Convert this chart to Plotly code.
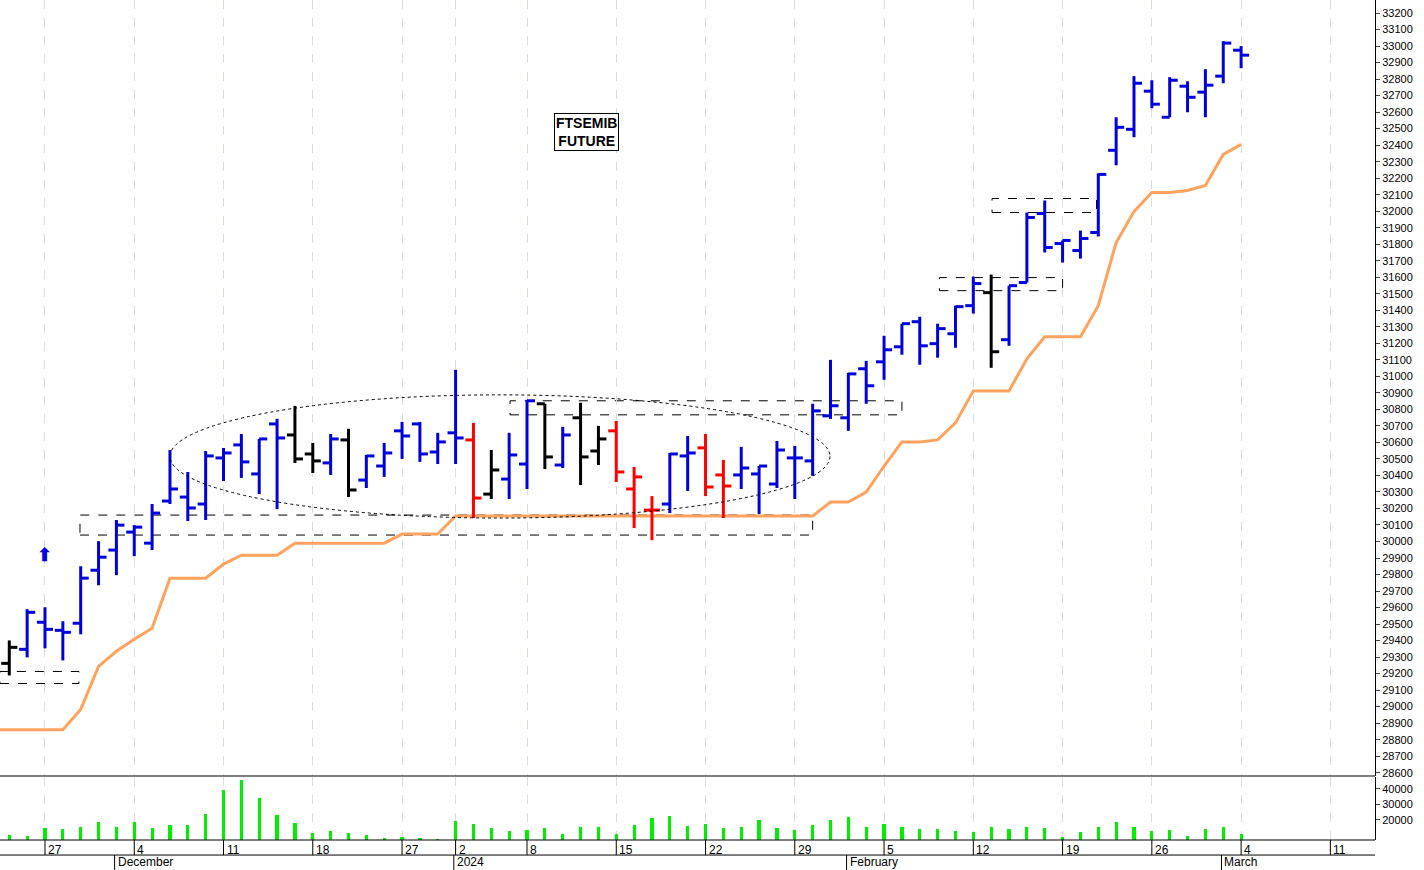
import plotly.graph_objects as go

# trading day index 0 = 23 Nov 2023 ... 69 = 4 Mar 2024
opens = [29262, 29347, 29511, 29462, 29505, 29826, 29948, 30057, 29990, 30245,
         30269, 30227, 30506, 30585, 30409, 30712, 30645, 30530, 30476, 30615,
         30372, 30457, 30670, 30712, 30542, 30658, 30615, 30287, 30378, 30469,
         30834, 30463, 30749, 30548, 30670, 30318, 30190, 30227, 30518, 30567,
         30403, 30403, 30409, 30348, 30506, 30488, 30761, 30749, 31046, 31088,
         31179, 31331, 31198, 31258, 31428, 31507, 31222, 31568, 31986, 31804,
         31762, 31871, 32369, 32496, 32727, 32569, 32757, 32721, 32818, 32975]
highs = [29401, 29590, 29602, 29517, 29850, 30002, 30130, 30099, 30227, 30554,
         30421, 30548, 30566, 30651, 30621, 30743, 30821, 30597, 30651, 30682,
         30524, 30597, 30724, 30724, 30658, 31040, 30718, 30554, 30658, 30858,
         30834, 30694, 30840, 30700, 30730, 30451, 30275, 30536, 30639, 30651,
         30494, 30573, 30457, 30609, 30579, 30834, 31100, 31021, 31094, 31246,
         31319, 31361, 31319, 31428, 31604, 31616, 31549, 31992, 32065, 31823,
         31883, 32229, 32569, 32818, 32793, 32812, 32787, 32860, 33030, 33000]
lows = [29189, 29298, 29353, 29280, 29438, 29735, 29796, 29911, 29948, 30227,
        30124, 30130, 30366, 30385, 30287, 30196, 30475, 30415, 30403, 30269,
        30324, 30391, 30500, 30482, 30469, 30469, 30142, 30257, 30257, 30318,
        30439, 30445, 30342, 30463, 30360, 30081, 30008, 30172, 30306, 30275,
        30142, 30318, 30166, 30324, 30257, 30397, 30742, 30670, 30834, 30979,
        31131, 31070, 31113, 31173, 31380, 31052, 31185, 31568, 31750, 31689,
        31713, 31847, 32278, 32448, 32624, 32569, 32599, 32569, 32775, 32866]
closes = [29359, 29571, 29468, 29450, 29778, 29905, 30099, 30087, 30172, 30318,
          30203, 30518, 30536, 30482, 30621, 30627, 30500, 30488, 30621, 30312,
          30518, 30536, 30639, 30530, 30603, 30627, 30263, 30433, 30524, 30852,
          30512, 30645, 30512, 30621, 30421, 30391, 30190, 30530, 30536, 30330,
          30336, 30445, 30457, 30554, 30506, 30791, 30822, 31015, 30943, 31161,
          31319, 31185, 31289, 31422, 31562, 31149, 31549, 31962, 31780, 31823,
          31835, 32223, 32508, 32775, 32648, 32793, 32690, 32763, 33018, 32945]
# bar colour codes: b = blue, k = black, r = red
bar_colors = "kbbbbbbbbbbbbbbbkkbkbbbbbbrkbbkbkkrrrbbrrbbbbbbbbbbbbbbkbbbbbbbbbbbbbb"
stop_line = [28860, 28860, 28860, 28860, 28983, 29244, 29335, 29408, 29474, 29778,
             29778, 29778, 29863, 29917, 29917, 29917, 29990, 29990, 29990, 29990,
             29990, 29990, 30045, 30045, 30045, 30154, 30154, 30154, 30154, 30154,
             30154, 30154, 30154, 30154, 30154, 30154, 30154, 30154, 30154, 30154,
             30154, 30154, 30154, 30154, 30154, 30154, 30239, 30239, 30299, 30457,
             30603, 30603, 30615, 30718, 30912, 30912, 30912, 31106, 31240, 31240,
             31240, 31428, 31810, 31998, 32114, 32114, 32126, 32156, 32344, 32405]
volume = [10300, 9700, 14800, 14200, 15500, 18700, 15500, 18700, 14800, 16800,
          16800, 23900, 39400, 45800, 34200, 23200, 18100, 11600, 12900, 11600,
          10300, 8400, 9000, 8400, 7700, 19400, 17400, 14800, 12900, 13500,
          14800, 11000, 15500, 15500, 11000, 16800, 21300, 22600, 16100, 17400,
          14800, 15500, 20000, 14800, 13500, 16800, 20000, 21900, 15500, 17400,
          15500, 14200, 14200, 12900, 12300, 15500, 14200, 15500, 14800, 9000,
          12300, 15500, 18700, 15500, 12900, 13500, 9700, 14200, 15500, 11000]

day_ticks = [2, 7, 12, 17, 22, 25, 29, 34, 39, 44, 49, 54, 59, 64, 69, 74]
day_labels = ["27", "4", "11", "18", "27", "2", "8", "15", "22", "29", "5", "12", "19", "26", "4", "11"]
month_ticks = [6, 25, 47, 68]
month_labels = ["December", "2024", "February", "March"]

palette = {"b": "#0000DD", "k": "#000000", "r": "#FF0000"}
font = "Liberation Sans, Arial, sans-serif"
tw = 0.45

fig = go.Figure()

# stop line (first value carried to the left edge)
fig.add_trace(go.Scatter(x=[-0.52] + list(range(len(stop_line))), y=[stop_line[0]] + stop_line,
                         mode="lines", line=dict(color="#FFA25E", width=3), hoverinfo="skip"))

# bars, one trace per colour
for code, col in palette.items():
    xs, ys = [], []
    for i, c in enumerate(bar_colors):
        if c != code:
            continue
        xs += [i, i, None, i - tw, i, None, i, i + tw, None]
        ys += [lows[i], highs[i], None, opens[i], opens[i], None, closes[i], closes[i], None]
    fig.add_trace(go.Scatter(x=xs, y=ys, mode="lines", line=dict(color=col, width=3),
                             hoverinfo="skip"))

fig.add_trace(go.Bar(x=list(range(len(volume))), y=volume, marker_color="#00EE00",
                     marker_line_width=0, width=0.18, yaxis="y2", xaxis="x2"))

xr = [-0.52, 76.5]
grid = dict(showgrid=True, gridcolor="#DADAE4", griddash="dash", gridwidth=1)
fig.update_layout(
    width=1424, height=870, showlegend=False,
    margin=dict(l=0, r=49, t=0, b=30, autoexpand=False),
    plot_bgcolor="white", paper_bgcolor="white",
    font=dict(family=font, size=11, color="#000"),
    xaxis=dict(range=xr, domain=[0, 1], showticklabels=False, tickvals=day_ticks,
               zeroline=False, anchor="y", automargin=False, **grid),
    xaxis2=dict(range=xr, domain=[0, 1], showticklabels=False, tickvals=day_ticks,
                zeroline=False, anchor="y2", matches="x", automargin=False, **grid),
    yaxis=dict(domain=[0.0762, 1], range=[28580, 33279], side="right",
               dtick=100, tick0=28600, tickformat="d", showgrid=False, zeroline=False,
               ticks="outside", ticklen=4, showline=True, linecolor="#000",
               tickfont=dict(size=11), automargin=False),
    yaxis2=dict(domain=[0, 0.075], range=[7100, 47700], side="right", anchor="x2",
                tickvals=[20000, 30000, 40000], tickformat="d", showgrid=False, zeroline=False,
                ticks="outside", ticklen=4, showline=True, linecolor="#000",
                tickfont=dict(size=11), automargin=False),
    bargap=0,
)

shapes = []
# separators between panels and label rows
for py in [0.0762, 0.0]:
    shapes.append(dict(type="line", xref="paper", yref="paper", x0=0, x1=1, y0=py, y1=py,
                       line=dict(color="#000", width=1.2)))
shapes.append(dict(type="line", xref="paper", yref="paper", x0=0, x1=1, y0=-0.0179, y1=-0.0179,
                   line=dict(color="#000", width=1)))
for t in day_ticks:
    shapes.append(dict(type="line", xref="x", yref="paper", x0=t, x1=t, y0=0, y1=-0.0179,
                       line=dict(color="#000", width=1)))
for t in month_ticks:
    shapes.append(dict(type="line", xref="x", yref="paper", x0=t - 0.1, x1=t - 0.1, y0=-0.0179,
                       y1=-0.036, line=dict(color="#000", width=1)))

# dashed boxes and ellipse
boxes = [(-0.52, 3.9, 29140, 29213), (3.96, 45.0, 30039, 30160), (28.05, 50.0, 30767, 30852),
         (52.1, 59.0, 31519, 31598), (55.05, 60.9, 31992, 32077)]
for x0, x1, y0, y1 in boxes:
    shapes.append(dict(type="rect", xref="x", yref="y", x0=x0, x1=x1, y0=y0, y1=y1,
                       line=dict(color="#000", width=1, dash="dash"), layer="below"))
shapes.append(dict(type="circle", xref="x", yref="y", x0=9.0, x1=45.97, y0=30142, y1=30888,
                   line=dict(color="#000", width=1, dash="dot")))
fig.update_layout(shapes=shapes)

ann = []
for t, lab in zip(day_ticks, day_labels):
    ann.append(dict(x=t, y=0, xref="x", yref="paper", text=lab, showarrow=False,
                    xanchor="left", yanchor="top", xshift=1, yshift=-1, font=dict(size=12)))
for t, lab in zip(month_ticks, month_labels):
    ann.append(dict(x=t - 0.1, y=-0.0179, xref="x", yref="paper", text=lab, showarrow=False,
                    xanchor="left", yanchor="top", xshift=1, yshift=2, font=dict(size=12)))
ann.append(dict(x=0.4266, y=0.865, xref="paper", yref="paper", text="<b>FTSEMIB<br>FUTURE</b>",
                showarrow=False, bordercolor="#000", borderwidth=1, borderpad=1,
                font=dict(size=14, family=font), bgcolor="white"))
ann.append(dict(x=2, y=29920, xref="x", yref="y", text="<b>⬆</b>", showarrow=False,
                font=dict(size=18, color="#0000DD")))
fig.update_layout(annotations=ann)

fig.write_html("out.html", config={"displayModeBar": False},
               post_script="document.body.style.margin='0';")
